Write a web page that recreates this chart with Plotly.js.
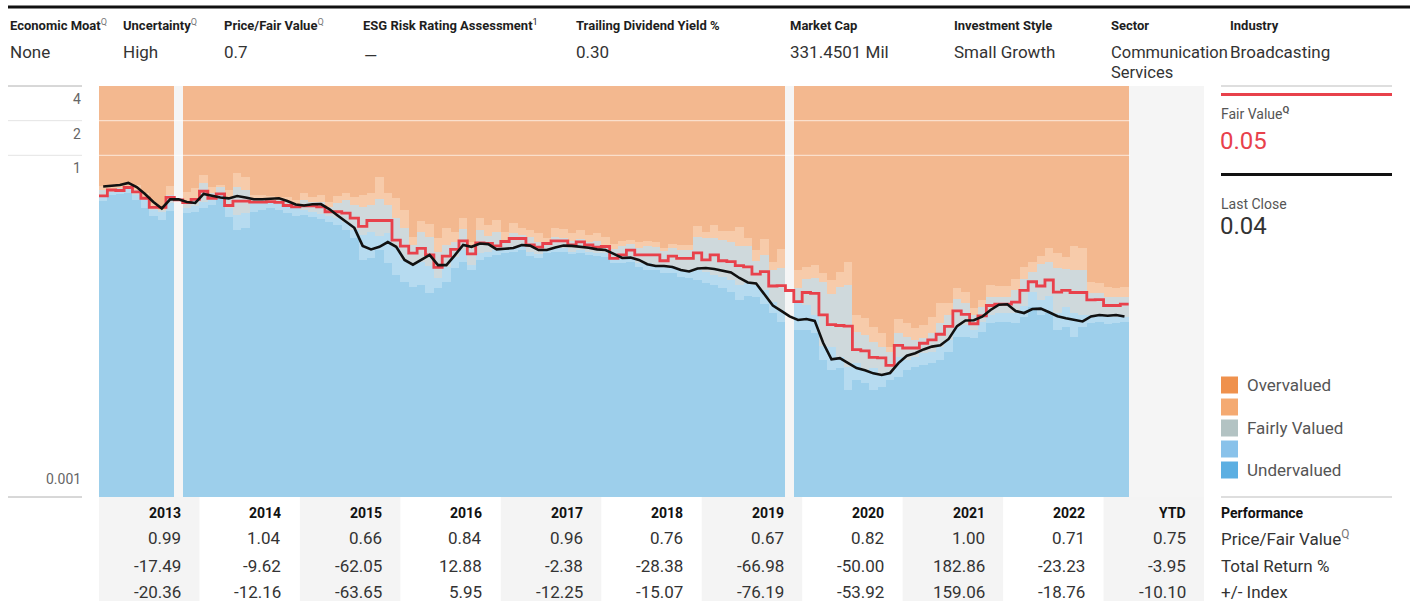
<!DOCTYPE html>
<html><head><meta charset="utf-8">
<script src="https://cdn.plot.ly/plotly-3.0.1.min.js"></script>
<style>html,body{margin:0;padding:0;background:#fff;}#chart{width:1410px;height:601px;}</style>
</head><body><div id="chart"></div>
<script>
// ---------- data ----------
const years = ['2013','2014','2015','2016','2017','2018','2019','2020','2021','2022','YTD'];
const priceFairValueRow = ['0.99','1.04','0.66','0.84','0.96','0.76','0.67','0.82','1.00','0.71','0.75'];
const totalReturnRow = ['-17.49','-9.62','-62.05','12.88','-2.38','-28.38','-66.98','-50.00','182.86','-23.23','-3.95'];
const indexRow = ['-20.36','-12.16','-63.65','5.95','-12.25','-15.07','-76.19','-53.92','159.06','-18.76','-10.10'];
const yTicks = [4, 2, 1, 0.001];

// monthly series, Jan 2013 .. Mar 2023
const price = [
 .536,.541,.552,.575,.530,.461,.393,.345,.414,.414,
 .393,.385,.461,.445,.430,.422,.443,.430,.415,.415,
 .417,.423,.401,.374,.366,.375,.377,.341,.300,.263,
 .234,.163,.152,.160,.176,.160,.123,.112,.123,.136,
 .111,.111,.135,.166,.160,.171,.169,.152,.154,.156,
 .166,.164,.150,.150,.158,.164,.163,.161,.157,.152,
 .150,.139,.128,.129,.123,.113,.109,.109,.107,.1006,
 .0976,.1036,.1046,.1026,.0996,.0957,.0857,.0783,.0768,.0622,
 .0494,.0443,.0397,.0370,.0377,.0363,.0234,.0168,.0172,.0156,
 .0141,.0135,.0127,.0123,.0128,.0156,.0181,.0190,.0205,.0217,
 .0223,.0253,.0327,.0366,.0368,.0395,.0452,.0502,.0506,.0443,
 .0425,.0461,.0464,.0432,.0399,.0383,.0373,.0359,.0397,.0409,
 .0403,.0409,.0397];
const fairValue = [
 .443,.499,.494,.525,.480,.423,.353,.353,.430,.409,
 .387,.414,.487,.423,.461,.366,.399,.399,.391,.391,
 .395,.389,.366,.356,.363,.363,.356,.323,.323,.314,
 .284,.241,.271,.271,.271,.183,.162,.141,.155,.136,
 .106,.133,.152,.180,.139,.173,.171,.163,.178,.189,
 .189,.166,.159,.171,.180,.180,.166,.177,.166,.159,
 .161,.127,.136,.150,.136,.136,.136,.121,.133,.127,
 .127,.142,.123,.136,.121,.119,.110,.107,.0928,.0972,
 .0730,.0735,.0667,.0533,.0641,.0629,.0409,.0337,.0331,.0327,
 .0204,.0199,.0175,.0173,.0149,.0222,.0211,.0211,.0232,.0248,
 .0278,.0325,.0443,.0413,.0343,.0401,.0494,.0507,.0507,.0528,
 .0670,.0795,.0730,.0823,.0645,.0670,.0641,.0641,.0552,.0555,
 .0494,.0494,.0507];
// band boundaries (null = month without rating data)
const undervaluedTop = [
 .401,.452,.461,.470,.409,.348,.297,.274,.327,null,
 .315,.321,.348,.370,.417,.291,.224,.234,.321,.334,
 .348,.334,.315,.297,.303,.291,.280,.263,.248,.224,
 .191,.123,.128,.150,.116,.0910,.0791,.0716,.0745,.0635,
 .0702,.0791,.105,.118,.1006,.123,.131,.136,.141,.144,
 .150,.133,.128,.141,.144,.144,.139,.141,.136,.133,
 .131,.116,.116,.118,.107,.1006,.1006,.0947,.0947,.0874,
 .0857,.0823,.0775,.0745,.0702,.0648,.0552,.0598,.0586,.0510,
 .0426,.0355,null,.0303,.0303,.0285,.0166,.0136,.0141,.0091,
 .0111,.0105,.0091,.0097,.0111,.0118,.0136,.0144,.0150,.0156,
 .0166,.0195,.0263,.0263,.0258,.0291,.0348,.0355,.0355,.0348,
 .0393,.0480,.0409,.0426,.0303,.0321,.0263,.0321,.0348,.0355,
 .0342,.0348,.0355];
const lowerFairTop = [
 .452,.479,.489,.510,.452,.409,.334,.321,.385,null,
 .348,.363,.393,.409,.452,.348,.303,.315,.385,.385,
 .385,.378,.356,.348,.334,.321,.308,.297,.285,.263,
 .224,.203,.215,.199,.211,.159,.123,.111,.118,.109,
 .0857,.107,.131,.150,.111,.141,.144,.150,.156,.159,
 .166,.144,.139,.153,.156,.156,.144,.150,.144,.141,
 .141,.126,.126,.131,.116,.116,.111,.107,.105,.1006,
 .0967,.1006,.0967,.0910,.0874,.0823,.0745,.0775,.0745,.0674,
 .0530,.0452,null,.0520,.0499,.0409,.0220,.0215,.0176,.0144,
 .0156,.0136,.0141,.0123,.0131,.0176,.0166,.0176,.0191,.0195,
 .0215,.0248,.0321,.0334,.0303,.0355,.0409,.0426,.0426,.0426,
 .0489,.0648,.0552,.0598,.0426,.0480,.0426,.0409,.0409,.0409,
 .0393,.0393,.0393];
const fairTop = [
 .499,.510,.520,.541,.499,.434,.348,.334,.452,null,
 .401,.426,.575,.470,.530,.434,.530,.499,.426,.426,
 .409,.409,.393,.378,.409,.393,.393,.356,.385,.409,
 .370,.356,.370,.417,.370,.285,.234,.166,.215,.195,
 .144,.166,.176,.229,.156,.224,.199,.215,.183,.211,
 .203,.195,.176,.172,.195,.191,.180,.187,.176,.180,
 .166,.153,.163,.169,.156,.163,.159,.147,.156,.150,
 .150,.195,.191,.191,.183,.176,.163,.163,.121,.136,
 .1006,.105,null,.0702,.0840,.0857,.0791,.0622,.0716,.0745,
 .0291,.0274,.0238,.0215,.0195,.0285,.0263,.0248,.0258,.0285,
 .0348,.0409,.0563,.0520,.0409,.0480,.0586,.0586,.0586,.0674,
 .0840,.0967,.114,.118,.105,.102,.1006,.1006,.0635,.0635,
 .0586,.0586,.0586];
const upperFairTop = [
 .541,.541,.552,.564,.552,.470,.385,.363,.541,null,
 .479,.520,.674,.530,.552,.499,.702,.648,.452,.452,
 .443,.434,.434,.409,.470,.434,.452,.393,.443,.470,
 .434,.452,.470,.648,.470,.426,.334,.195,.269,.253,
 .191,.234,.215,.285,.176,.285,.248,.274,.215,.258,
 .234,.224,.211,.191,.234,.229,.211,.224,.203,.211,
 .195,.169,.180,.183,.176,.180,.176,.156,.169,.166,
 .166,.243,.215,.248,.220,.220,.238,.191,.150,.187,
 .118,.153,null,.1006,.107,.111,.0947,.0823,.0967,.118,
 .0409,.0385,.0321,.0285,.0215,.0378,.0348,.0315,.0334,.0393,
 .0520,.0520,.0702,.0648,.0470,.0552,.0745,.0730,.0730,.0840,
 .107,.118,.133,.156,.141,.131,.163,.156,.0791,.0775,
 .0716,.0702,.0716];
const AXIS_FLOOR = 0.0005, AXIS_CEIL = 10;

// ---------- geometry helpers (layout only) ----------
const W = 1410, H = 601, PL = 99, PR = 1204, PT = 86, PB = 497;
const px = x => (x - PL) / (PR - PL);
const py = y => (PB - y) / (PB - PT);
const FONT = "Roboto, 'Liberation Sans', sans-serif";

const months = price.map((_, i) => i);
function band(lower, upper, color) {
  const base = [], size = [];
  upper.forEach((hi, i) => {
    const lo = Array.isArray(lower) ? lower[i] : lower;
    if (lo == null || hi == null) { base.push(null); size.push(null); }
    else { base.push(lo); size.push(Math.max(hi - lo, 0)); }
  });
  return {type: 'bar', x: months.map(m => m + 0.5), y: size, base: base, width: 1,
          marker: {color: color, line: {width: 0}}, hoverinfo: 'skip', showlegend: false};
}
const ceilArr = upperFairTop.map(v => v == null ? null : AXIS_CEIL);
const floorArr = undervaluedTop.map(v => v == null ? null : AXIS_FLOOR);

const traces = [
  band(floorArr, undervaluedTop, '#9dcfeb'),
  band(undervaluedTop, lowerFairTop, '#b6dbf0'),
  band(lowerFairTop, fairTop, '#cfd9dc'),
  band(fairTop, upperFairTop, '#f7cbaa'),
  band(upperFairTop, ceilArr, '#f3b88f'),
  {type: 'scatter', mode: 'lines', x: months.concat([months.length]), y: fairValue.concat([fairValue[fairValue.length - 1]]),
   line: {shape: 'hv', color: '#e8414b', width: 2.8}, hoverinfo: 'skip', showlegend: false},
  {type: 'scatter', mode: 'lines', x: months.map(m => m + 0.5), y: price,
   line: {color: '#111111', width: 2.6}, hoverinfo: 'skip', showlegend: false}
];

const ann = [];
const shapes = [];
function txt(x, y, text, size, color, opts) {
  ann.push(Object.assign({xref: 'paper', yref: 'paper', x: px(x), y: py(y), text: text, showarrow: false,
    xanchor: 'left', yanchor: 'middle', font: {family: FONT, size: size, color: color}}, opts || {}));
}
function hline(x0, x1, y, color, width) {
  shapes.push({type: 'line', xref: 'paper', yref: 'paper', x0: px(x0), x1: px(x1), y0: py(y), y1: py(y),
    line: {color: color, width: width}});
}
const Q = '<sup><span style="color:#777">Q</span></sup>';

// header
hline(8, 1410, 7, '#111', 3);
const headLabels = [['<b>Economic Moat</b>' + Q, 8], ['<b>Uncertainty</b>' + Q, 121],
  ['<b>Price/Fair Value</b>' + Q, 222], ['<b>ESG Risk Rating Assessment</b><sup>1</sup>', 361],
  ['<b>Trailing Dividend Yield %</b>', 574], ['<b>Market Cap</b>', 788], ['<b>Investment Style</b>', 952],
  ['<b>Sector</b>', 1109], ['<b>Industry</b>', 1228]];
headLabels.forEach(([t, x]) => txt(x, 25, t, 13, '#1e1e1e'));
const headValues = [['None', 8, 52], ['High', 121, 52], ['0.7', 222, 52], ['—', 362, 56], ['0.30', 574, 52],
  ['331.4501 Mil', 788, 52], ['Small Growth', 952, 52], ['Communication', 1109, 52], ['Services', 1109, 73],
  ['Broadcasting', 1228, 52]];
headValues.forEach(([t, x, y]) => txt(x, y, t, x === 1109 ? 16.5 : 17, '#333'));

// left axis column
hline(8, 82, 86, '#b0b0b0', 1);
hline(8, 82, 497, '#b0b0b0', 1);
[2, 1].forEach(v => {
  shapes.push({type: 'line', xref: 'paper', yref: 'y', x0: px(8), x1: px(82), y0: v, y1: v, line: {color: '#e4e4e4', width: 1}});
  shapes.push({type: 'line', xref: 'paper', yref: 'y', x0: 0, x1: px(1130), y0: v, y1: v, layer: 'above',
    line: {color: 'rgba(255,255,255,0.55)', width: 1.2}});
});
yTicks.forEach(v => {
  if (v >= 0.01) {
    ann.push({xref: 'paper', yref: 'y', x: px(83), y: Math.log10(v), text: String(v), showarrow: false, xanchor: 'right',
      yanchor: 'top', yshift: -3, font: {family: FONT, size: 14, color: '#666'}});
  } else {
    // lowest tick sits just above the floor of the plot
    txt(83, 479, String(v), 14, '#666', {xanchor: 'right'});
  }
});

// table column shading + texts
years.forEach((yr, k) => {
  if (k % 2 === 0) shapes.push({type: 'rect', xref: 'x', yref: 'paper', x0: 12 * k, x1: 12 * k + 12,
    y0: py(H + 5), y1: py(PB), fillcolor: '#f4f4f4', line: {width: 0}, layer: 'below'});
  const xr = 12 * k + 10.03;
  const rows = [[yr, 513, 14, '#111', true], [priceFairValueRow[k], 538, 17, '#333'],
    [totalReturnRow[k], 566, 17, '#333'], [indexRow[k], 592, 17, '#333']];
  rows.forEach(([t, y, s, c, b]) => ann.push({xref: 'x', yref: 'paper', x: xr, y: py(y), text: b ? '<b>' + t + '</b>' : t,
    showarrow: false, xanchor: 'right', yanchor: 'middle', font: {family: FONT, size: s, color: c}}));
});
txt(1219, 513, '<b>Performance</b>', 14, '#111');
txt(1219, 538, 'Price/Fair Value' + Q, 17, '#333');
txt(1219, 566, 'Total Return %', 17, '#333');
txt(1219, 592, '+/- Index', 17, '#333');

// right panel
hline(1221, 1392, 86, '#bdbdbd', 1);
hline(1221, 1392, 94.5, '#e8414b', 3);
txt(1219, 113, 'Fair Value<sup><b>Q</b></sup>', 14, '#555');
txt(1218, 141, '0.05', 24, '#e8414b');
hline(1221, 1392, 174.5, '#111', 3);
txt(1219, 204, 'Last Close', 14, '#555');
txt(1218, 226, '0.04', 24, '#333');
hline(1221, 1392, 497, '#bdbdbd', 1);
const legendItems = [['Overvalued', '#ef914d', 385], ['', '#f4aa72', 407], ['Fairly Valued', '#b3c3c3', 428],
  ['', '#89c2ea', 449], ['Undervalued', '#5cafe2', 470]];
legendItems.forEach(([t, c, y]) => {
  shapes.push({type: 'rect', xref: 'paper', yref: 'paper', x0: px(1221), x1: px(1238), y0: py(y + 8.5), y1: py(y - 8.5),
    fillcolor: c, line: {width: 0}});
  if (t) txt(1245, y, t, 17, '#555');
});

const layout = {
  width: W, height: H, margin: {l: PL, r: W - PR, t: PT, b: H - PB, pad: 0},
  paper_bgcolor: '#ffffff', plot_bgcolor: '#f5f5f5',
  barmode: 'overlay', bargap: 0, showlegend: false, hovermode: false,
  xaxis: {range: [0, 132], showgrid: false, zeroline: false, showticklabels: false, ticks: '', fixedrange: true},
  yaxis: {type: 'log', range: [Math.log10(0.001068), Math.log10(4.005)], showgrid: false, zeroline: false,
          showticklabels: false, ticks: '', fixedrange: true},
  annotations: ann, shapes: shapes
};
Plotly.newPlot('chart', traces, layout, {staticPlot: true, displayModeBar: false});
</script>
</body></html>
